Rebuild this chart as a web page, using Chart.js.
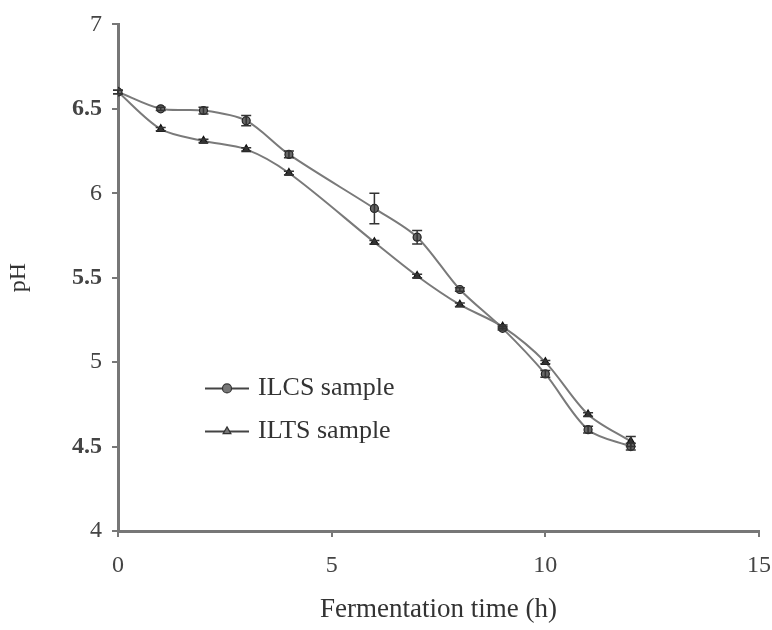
<!DOCTYPE html>
<html>
<head>
<meta charset="utf-8">
<script src="https://cdn.jsdelivr.net/npm/chart.js@4.4.1/dist/chart.umd.min.js"></script>
<style>
  html, body { margin: 0; padding: 0; background: #fff; }
  #wrap { width: 772px; height: 630px; }
</style>
</head>
<body>
<div id="wrap"><canvas id="ph"></canvas></div>
<script>
// fermentation time (h)
const hours = [0, 1, 2, 3, 4, 6, 7, 8, 9, 10, 11, 12];
// pH values
const ilcs = [6.6, 6.5, 6.49, 6.43, 6.23, 5.91, 5.74, 5.43, 5.2, 4.93, 4.6, 4.5];
const ilts = [6.6, 6.38, 6.31, 6.26, 6.12, 5.71, 5.51, 5.34, 5.21, 5.0, 4.69, 4.53];
// error bars (+/-)
const ilcsErr = [0.01, 0.01, 0.02, 0.03, 0.02, 0.09, 0.04, 0.01, 0.01, 0.02, 0.02, 0.02];
const iltsErr = [0.01, 0.01, 0.01, 0.01, 0.01, 0.01, 0.01, 0.01, 0.01, 0.01, 0.01, 0.03];
const seriesNames = ["ILCS sample", "ILTS sample"];

const serif = "'Liberation Serif', 'DejaVu Serif', serif";
const axisColor = "#777";

function toPoints(ys) {
  return hours.map((h, i) => ({ x: h, y: ys[i] }));
}

// draws the vertical error bars with caps
const errorBars = {
  id: "errorBars",
  afterDatasetsDraw(chart) {
    const ctx = chart.ctx;
    const yScale = chart.scales.y;
    chart.data.datasets.forEach((ds, di) => {
      const meta = chart.getDatasetMeta(di);
      ctx.save();
      ctx.strokeStyle = "#333";
      ctx.lineWidth = 1.5;
      meta.data.forEach((pt, i) => {
        const v = ds.data[i].y;
        const e = ds.errors[i];
        const top = yScale.getPixelForValue(v + e);
        const bot = yScale.getPixelForValue(v - e);
        ctx.beginPath();
        ctx.moveTo(pt.x, top); ctx.lineTo(pt.x, bot);
        ctx.moveTo(pt.x - 5, top); ctx.lineTo(pt.x + 5, top);
        ctx.moveTo(pt.x - 5, bot); ctx.lineTo(pt.x + 5, bot);
        ctx.stroke();
      });
      ctx.restore();
    });
  }
};

// legend drawn inside the plot area
const innerLegend = {
  id: "innerLegend",
  afterDraw(chart) {
    const ctx = chart.ctx;
    const area = chart.chartArea;
    const x0 = area.left + 87;
    let y = area.top + 364;
    chart.data.datasets.forEach((ds) => {
      ctx.save();
      ctx.strokeStyle = "#444";
      ctx.lineWidth = 2;
      ctx.beginPath();
      ctx.moveTo(x0, y); ctx.lineTo(x0 + 44, y);
      ctx.stroke();
      ctx.fillStyle = "#777";
      ctx.strokeStyle = "#333";
      ctx.lineWidth = 1.2;
      Chart.helpers.drawPoint(ctx, { pointStyle: ds.pointStyle, radius: 4.5, borderWidth: 1.2 }, x0 + 22, y);
      ctx.fillStyle = "#333";
      ctx.font = "26px " + serif;
      ctx.textBaseline = "middle";
      ctx.fillText(ds.label, x0 + 53, y);
      ctx.restore();
      y += 43;
    });
  }
};

new Chart(document.getElementById("ph").getContext("2d"), {
  type: "line",
  data: {
    datasets: [
      {
        label: seriesNames[0],
        data: toPoints(ilcs),
        errors: ilcsErr,
        borderColor: "#7a7a7a",
        borderWidth: 2,
        tension: 0.3,
        pointStyle: "circle",
        pointRadius: 4,
        pointBackgroundColor: "#666",
        pointBorderColor: "#222",
        pointBorderWidth: 1.2
      },
      {
        label: seriesNames[1],
        data: toPoints(ilts),
        errors: iltsErr,
        borderColor: "#7a7a7a",
        borderWidth: 2,
        tension: 0.3,
        pointStyle: "triangle",
        pointRadius: 4.5,
        pointBackgroundColor: "#333",
        pointBorderColor: "#111",
        pointBorderWidth: 1.2
      }
    ]
  },
  options: {
    responsive: true,
    maintainAspectRatio: false,
    animation: false,
    layout: { padding: { top: 21, right: 0, left: 0, bottom: 0 } },
    plugins: {
      legend: { display: false },
      tooltip: { enabled: false }
    },
    scales: {
      x: {
        type: "linear",
        min: 0,
        max: 15,
        ticks: {
          stepSize: 5,
          color: "#444",
          padding: 14,
          maxRotation: 0,
          font: { family: serif, size: 24 }
        },
        grid: { drawOnChartArea: false, drawTicks: true, tickLength: 6, color: axisColor, lineWidth: 2 },
        border: { color: axisColor, width: 3 },
        title: {
          display: true,
          text: "Fermentation time (h)",
          color: "#333",
          font: { family: serif, size: 27 },
          padding: { top: 8 }
        },
        afterFit(scale) {
          scale.height = 99;
          scale.paddingRight = 13;
        }
      },
      y: {
        min: 4,
        max: 7,
        ticks: {
          stepSize: 0.5,
          color: "#444",
          padding: 10,
          callback: (v) => String(v),
          font: (c) => ({
            family: serif,
            size: 24,
            weight: (c.tick && c.tick.value % 1 !== 0) ? "bold" : "normal"
          })
        },
        grid: { drawOnChartArea: false, drawTicks: true, tickLength: 6, color: axisColor, lineWidth: 2 },
        border: { color: axisColor, width: 3 },
        title: {
          display: true,
          text: "pH",
          color: "#333",
          font: { family: serif, size: 24 },
          padding: { bottom: 4 }
        },
        afterFit(scale) { scale.width = 118; }
      }
    }
  },
  plugins: [errorBars, innerLegend]
});
</script>
</body>
</html>
